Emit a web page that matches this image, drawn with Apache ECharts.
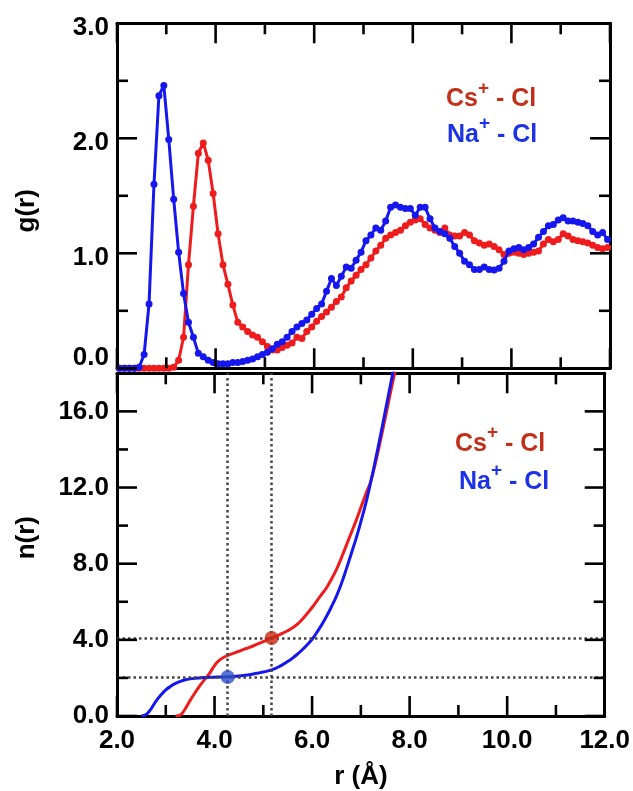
<!DOCTYPE html>
<html><head><meta charset="utf-8">
<script src="https://cdn.jsdelivr.net/npm/echarts@6/dist/echarts.min.js"></script>
<style>html,body{margin:0;padding:0;background:#fff}#c{width:633px;height:791px}</style>
</head><body><div id="c"></div>
<script>
// ---- data: g(r) radial distribution (bin centres, Å) ----
const gR = [2.05,2.15,2.25,2.35,2.45,2.55,2.65,2.75,2.85,2.95,
  3.05,3.15,3.25,3.35,3.45,3.55,3.65,3.75,3.85,3.95,
  4.05,4.15,4.25,4.35,4.45,4.55,4.65,4.75,4.85,4.95,
  5.05,5.15,5.25,5.35,5.45,5.55,5.65,5.75,5.85,5.95,
  6.05,6.15,6.25,6.35,6.45,6.55,6.65,6.75,6.85,6.95,
  7.05,7.15,7.25,7.35,7.45,7.55,7.65,7.75,7.85,7.95,
  8.05,8.15,8.25,8.35,8.45,8.55,8.65,8.75,8.85,8.95,
  9.05,9.15,9.25,9.35,9.45,9.55,9.65,9.75,9.85,9.95,
  10.05,10.15,10.25,10.35,10.45,10.55,10.65,10.75,10.85,10.95,
  11.05,11.15,11.25,11.35,11.45,11.55,11.65,11.75,11.85,11.95];
const gCs = [0,0,0,0,0,0,0,0,0,0,
  0,0.01,0.07,0.27,0.90,1.41,1.87,1.96,1.81,1.52,
  1.17,0.90,0.73,0.55,0.40,0.36,0.32,0.29,0.27,0.23,
  0.19,0.16,0.16,0.18,0.20,0.22,0.27,0.26,0.32,0.36,
  0.41,0.45,0.49,0.53,0.58,0.62,0.70,0.76,0.81,0.86,
  0.90,0.96,1.02,1.07,1.13,1.16,1.18,1.20,1.24,1.27,
  1.29,1.30,1.25,1.22,1.20,1.18,1.22,1.16,1.15,1.15,
  1.18,1.16,1.11,1.09,1.07,1.08,1.06,1.03,0.99,1.00,
  1.01,1.00,0.99,1.00,1.01,1.02,1.08,1.12,1.10,1.12,
  1.17,1.15,1.12,1.11,1.10,1.09,1.07,1.05,1.04,1.05];
const gNa = [0,0,0,0,0.01,0.12,0.56,1.60,2.37,2.46,
  1.99,1.47,1.01,0.65,0.40,0.27,0.13,0.10,0.07,0.05,
  0.04,0.04,0.04,0.05,0.05,0.06,0.07,0.08,0.10,0.12,
  0.14,0.17,0.21,0.23,0.27,0.32,0.36,0.39,0.42,0.47,
  0.52,0.56,0.67,0.78,0.72,0.80,0.88,0.87,0.94,1.01,
  1.11,1.16,1.22,1.20,1.28,1.40,1.42,1.40,1.39,1.39,
  1.33,1.40,1.40,1.30,1.22,1.19,1.17,1.13,1.06,1.00,
  0.93,0.90,0.86,0.86,0.88,0.86,0.855,0.87,0.93,1.02,
  1.04,1.05,1.03,1.05,1.08,1.14,1.19,1.24,1.25,1.29,
  1.31,1.28,1.28,1.27,1.26,1.24,1.19,1.16,1.18,1.12];

// ---- data: n(r) running coordination number ----
const nR = [2.5,2.6,2.7,2.8,2.9,3.0,3.1,3.2,3.3,3.4,3.5,3.6,3.7,3.8,3.9,
  4.0,4.1,4.2,4.3,4.4,4.5,4.6,4.7,4.8,4.9,5.0,5.1,5.2,5.3,5.4,5.5,5.6,5.7,5.8,5.9,
  6.0,6.1,6.2,6.3,6.4,6.5,6.6,6.7,6.8,6.9,7.0,7.1,7.2,7.3,7.4,7.5,7.6,7.7,7.8];
const nCs = [null,null,null,null,null,null,null,0,0.05,0.38,0.82,1.22,1.60,1.92,2.25,
  2.65,2.93,3.10,3.21,3.30,3.40,3.50,3.59,3.69,3.80,3.91,4.02,4.13,4.24,4.35,4.48,4.63,4.82,5.08,5.38,
  5.70,6.05,6.40,6.75,7.20,7.70,8.30,8.95,9.60,10.25,10.95,11.65,12.30,13.30,14.45,15.65,16.90,18.10,19.30];
const nNa = [0,0.08,0.38,0.78,1.10,1.37,1.56,1.71,1.82,1.90,1.95,1.98,2.00,2.02,2.03,
  2.04,2.05,2.05,2.06,2.08,2.10,2.13,2.17,2.21,2.26,2.31,2.37,2.45,2.56,2.70,2.86,3.04,3.25,3.48,3.74,
  4.03,4.40,4.80,5.25,5.75,6.30,6.95,7.70,8.50,9.30,10.20,11.15,12.25,13.45,14.70,16.00,17.30,18.60,19.90];

// first-shell cut-offs and coordination numbers
const cutoffR = [4.27, 5.17];   // Na, Cs
const coordN  = [2.05, 4.10];   // Na, Cs

// tick positions
const xMajor = [2, 4, 6, 8, 10, 12];
const xMinor = [3, 5, 7, 9, 11];
const gMajor = [0, 1, 2, 3];
const gMinor = [0.5, 1.5, 2.5];
const nMajor = [0, 4, 8, 12, 16];
const nMinor = [2, 6, 10, 14];

const legendCs = 'Cs';
const legendNa = 'Na';

// ---- styling ----
const FONT = '"Liberation Sans", Arial, Helvetica, sans-serif';
const RED = '#ee1c1c', BLUE = '#1616ee';
const CS_TXT = '#c2301a', NA_TXT = '#1c32e6';
const TW = 2.6;
const LFS = 26;
const MAJ = 20, MIN = 11;

function xAx(grid, pos, labels, name) {
  const a = {type:'value', gridIndex:grid, position:pos, min:2, max:12, interval:2,
    axisLine:{show:true, onZero:false, lineStyle:{color:'#000', width:3}}, splitLine:{show:false},
    axisTick:{show:false}, minorTick:{show:false}, axisLabel:{show:false}};
  if (labels) {
    a.axisLabel = {show:true, margin:12, fontFamily:FONT, fontSize:LFS, fontWeight:'bold', color:'#000',
      formatter: v => v.toFixed(1)};
  }
  if (name) {
    a.name = name; a.nameLocation = 'middle'; a.nameGap = 48;
    a.nameTextStyle = {fontFamily:FONT, fontSize:26, fontWeight:'bold', color:'#000'};
  }
  return a;
}
function yAx(grid, pos, min, max, interval, labels) {
  const a = {type:'value', gridIndex:grid, position:pos, min:min, max:max, interval:interval,
    axisLine:{show:true, onZero:false, lineStyle:{color:'#000', width:3}}, splitLine:{show:false},
    axisTick:{show:false}, minorTick:{show:false}, axisLabel:{show:false}};
  if (labels) a.axisLabel = labels;
  return a;
}

const lblBase = {fontFamily:FONT, fontSize:LFS, fontWeight:'bold', color:'#000'};

const topLabels = {show:true, margin:8, align:'right',
  formatter: v => v === 0 ? '{lo|0.0}' : '{hi|' + v.toFixed(1) + '}',
  rich:{ lo:Object.assign({padding:[0,0,20,0]}, lblBase), hi:Object.assign({padding:[9,0,0,0]}, lblBase) }};
const botLabels = Object.assign({show:true, margin:8, showMaxLabel:false,
  formatter: v => v.toFixed(1)}, lblBase);

const topY = yAx(0,'left',0,3,1,topLabels);
topY.name = 'g(r)'; topY.nameLocation = 'middle'; topY.nameRotate = 90; topY.nameGap = 77;
topY.nameTextStyle = {fontFamily:FONT, fontSize:26, fontWeight:'bold', color:'#000', padding:[0,30,0,0]};

const botY = yAx(1,'left',0,18,4,botLabels);
botY.name = 'n(r)'; botY.nameLocation = 'middle'; botY.nameRotate = 90; botY.nameGap = 77;
botY.nameTextStyle = {fontFamily:FONT, fontSize:26, fontWeight:'bold', color:'#000', padding:[0,0,0,14]};

const dotted = {type:[2.5,3], color:'#444', width:2.5};

// legend: ion name, superscript "+", " - Cl" as separate text pieces
function legendText(x, yMid, ion, color) {
  const big = 'bold 25px ' + FONT, small = 'bold 19px ' + FONT;
  return [
    {type:'text', x:x, y:yMid, z:100, style:{text:ion, font:big, fill:color, verticalAlign:'middle', align:'left'}},
    {type:'text', x:x + 32, y:yMid - 11, z:100, style:{text:'+', font:small, fill:color, verticalAlign:'middle', align:'left'}},
    {type:'text', x:x + 43, y:yMid, z:100, style:{text:' - Cl', font:big, fill:color, verticalAlign:'middle', align:'left'}}
  ];
}

const chart = echarts.init(document.getElementById('c'), null, {renderer:'canvas'});
chart.setOption({
  animation:false,
  backgroundColor:'#fff',
  grid:[
    {left:117, right:23, top:23.3, height:345, show:false},
    {left:117, right:23, top:373.3, height:345, show:false}
  ],
  xAxis:[ xAx(0,'bottom',false), xAx(0,'top',false), xAx(1,'bottom',true,'r (Å)'), xAx(1,'top',false) ],
  yAxis:[
    topY,
    yAx(0,'right',0,3,1,null),
    botY,
    yAx(1,'right',0,18,4,null)
  ],
  series:[
    {type:'line', name:'Cs-Cl g', xAxisIndex:0, yAxisIndex:0, data:gR.map((r,i)=>[r,gCs[i]]),
      symbol:'circle', symbolSize:7, lineStyle:{color:RED, width:3}, itemStyle:{color:RED}, z:3},
    {type:'line', name:'Na-Cl g', xAxisIndex:0, yAxisIndex:0, data:gR.map((r,i)=>[r,gNa[i]]),
      symbol:'circle', symbolSize:7, lineStyle:{color:BLUE, width:3}, itemStyle:{color:BLUE}, z:4},
    {type:'line', name:'guides', xAxisIndex:2, yAxisIndex:2, data:[], z:2,
      markLine:{silent:true, symbol:['none','none'], label:{show:false}, lineStyle:dotted,
        data:[{xAxis:cutoffR[0]},{xAxis:cutoffR[1]},{yAxis:coordN[0]},{yAxis:coordN[1]}]}},
    {type:'line', name:'Cs-Cl n', xAxisIndex:2, yAxisIndex:2, data:nR.map((r,i)=>[r,nCs[i]]),
      smooth:0.4, showSymbol:false, lineStyle:{color:RED, width:3}, z:3},
    {type:'line', name:'Na-Cl n', xAxisIndex:2, yAxisIndex:2, data:nR.map((r,i)=>[r,nNa[i]]),
      smooth:0.4, showSymbol:false, lineStyle:{color:BLUE, width:3}, z:4},
    {type:'scatter', xAxisIndex:2, yAxisIndex:2, data:[[cutoffR[1], coordN[1]]], symbolSize:14,
      itemStyle:{color:'#c52a12'}, z:6},
    {type:'scatter', xAxisIndex:2, yAxisIndex:2, data:[[cutoffR[0], coordN[0]]], symbolSize:14,
      itemStyle:{color:'#3050c8'}, z:6}
  ]
});

// inward ticks on all four sides of each panel, positioned through the axes' own scales
function panelTicks(xIdx, yIdx, yMaj, yMin, yLo, yHi) {
  const out = [];
  const left = chart.convertToPixel({xAxisIndex:xIdx}, 2);
  const right = chart.convertToPixel({xAxisIndex:xIdx}, 12);
  const bottom = chart.convertToPixel({yAxisIndex:yIdx}, yLo);
  const top = chart.convertToPixel({yAxisIndex:yIdx}, yHi);
  const add = (x, y, w, h) => out.push({type:'rect', silent:true, z:90,
    shape:{x:x, y:y, width:w, height:h}, style:{fill:'#000'}});
  const xt = (vals, len) => vals.forEach(v => {
    const px = chart.convertToPixel({xAxisIndex:xIdx}, v);
    add(px - TW/2, bottom - len, TW, len);
    add(px - TW/2, top, TW, len);
  });
  const yt = (vals, len) => vals.forEach(v => {
    const py = chart.convertToPixel({yAxisIndex:yIdx}, v);
    add(left, py - TW/2, len, TW);
    add(right - len, py - TW/2, len, TW);
  });
  xt(xMajor, MAJ); xt(xMinor, MIN); yt(yMaj, MAJ); yt(yMin, MIN);
  return out;
}

chart.setOption({
  graphic: [].concat(
    legendText(446, 99.5, legendCs, CS_TXT),
    legendText(447, 135, legendNa, NA_TXT),
    legendText(455, 444, legendCs, CS_TXT),
    legendText(459, 482, legendNa, NA_TXT),
    panelTicks(0, 0, gMajor, gMinor, 0, 3),
    panelTicks(2, 2, nMajor, nMinor, 0, 18)
  )
});
</script>
</body></html>
